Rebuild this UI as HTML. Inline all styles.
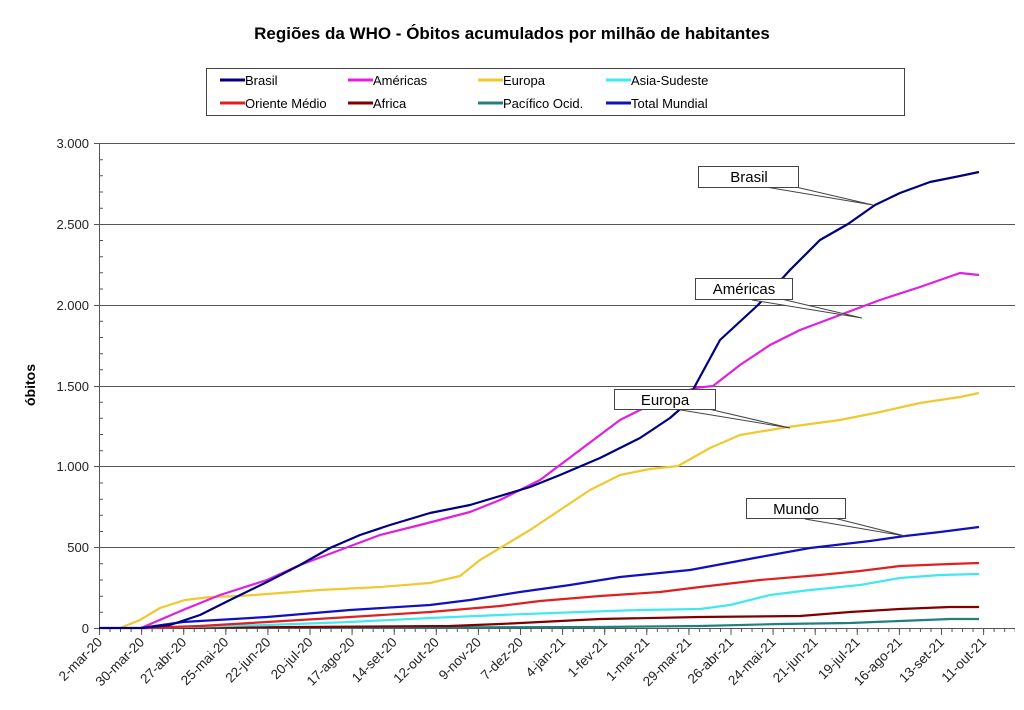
<!DOCTYPE html>
<html><head><meta charset="utf-8"><style>
body{margin:0;background:#fff;}
svg{display:block;font-family:"Liberation Sans",Arial,sans-serif;}
</style></head><body>
<svg width="1024" height="710" viewBox="0 0 1024 710">
<defs>
<pattern id="pmin" patternUnits="userSpaceOnUse" x="99" y="628" width="10.525" height="4"><rect x="0" y="0" width="1" height="4" fill="#555"/></pattern>
<pattern id="pmaj" patternUnits="userSpaceOnUse" x="99" y="628" width="42.1" height="7"><rect x="0" y="0" width="1" height="7" fill="#555"/></pattern>
</defs>
<rect width="1024" height="710" fill="#fff"/>
<text x="512" y="39" text-anchor="middle" font-size="17" font-weight="bold" fill="#000">Regiões da WHO - Óbitos acumulados por milhão de habitantes</text>
<!-- legend -->
<rect x="206.5" y="68.5" width="698" height="47" fill="#fff" stroke="#444" stroke-width="1"/>
<g font-size="13" fill="#000" stroke-width="3">
<line x1="220" y1="80" x2="245" y2="80" stroke="#000080"/><text x="245" y="85">Brasil</text>
<line x1="348" y1="80" x2="373" y2="80" stroke="#e020e0"/><text x="373" y="85">Américas</text>
<line x1="478" y1="80" x2="503" y2="80" stroke="#f0c830"/><text x="503" y="85">Europa</text>
<line x1="606" y1="80" x2="631" y2="80" stroke="#40e8f0"/><text x="631" y="85">Asia-Sudeste</text>
<line x1="220" y1="103" x2="245" y2="103" stroke="#e02020"/><text x="245" y="108">Oriente Médio</text>
<line x1="348" y1="103" x2="373" y2="103" stroke="#800000"/><text x="373" y="108">Africa</text>
<line x1="478" y1="103" x2="503" y2="103" stroke="#208080"/><text x="503" y="108">Pacífico Ocid.</text>
<line x1="606" y1="103" x2="631" y2="103" stroke="#1010c0"/><text x="631" y="108">Total Mundial</text>
</g>
<!-- grid -->
<g stroke="#555" stroke-width="1">
<line x1="94" y1="143.5" x2="1015" y2="143.5"/>
<line x1="94" y1="224.5" x2="1015" y2="224.5"/>
<line x1="94" y1="305.5" x2="1015" y2="305.5"/>
<line x1="94" y1="386.5" x2="1015" y2="386.5"/>
<line x1="94" y1="466.5" x2="1015" y2="466.5"/>
<line x1="94" y1="547.5" x2="1015" y2="547.5"/>
<line x1="94" y1="628.5" x2="1015" y2="628.5"/>
<line x1="99.5" y1="143" x2="99.5" y2="629"/>
<path fill="none" d="M99 612.3h4M99 596.2h4M99 580h4M99 563.8h4M99 531.5h4M99 515.3h4M99 499.2h4M99 483h4M99 450.7h4M99 434.5h4M99 418.3h4M99 402.2h4M99 369.8h4M99 353.7h4M99 337.5h4M99 321.3h4M99 289h4M99 272.8h4M99 256.7h4M99 240.5h4M99 208.2h4M99 192h4M99 175.8h4M99 159.7h4"/>
</g>
<rect x="99" y="628" width="916" height="4" fill="url(#pmin)"/>
<rect x="99" y="628" width="886" height="7" fill="url(#pmaj)"/>
<g font-size="13" fill="#222" text-anchor="end">
<text x="89" y="148">3.000</text><text x="89" y="229">2.500</text><text x="89" y="310">2.000</text>
<text x="89" y="391">1.500</text><text x="89" y="471">1.000</text><text x="89" y="552">500</text><text x="89" y="633">0</text>
</g>
<text transform="translate(35,385) rotate(-90)" text-anchor="middle" font-size="14" font-weight="bold">óbitos</text>
<g font-size="13.5" fill="#222" text-anchor="end">
<text transform="translate(103,643) rotate(-45)">2-mar-20</text>
<text transform="translate(145.1,643) rotate(-45)">30-mar-20</text>
<text transform="translate(187.2,643) rotate(-45)">27-abr-20</text>
<text transform="translate(229.3,643) rotate(-45)">25-mai-20</text>
<text transform="translate(271.4,643) rotate(-45)">22-jun-20</text>
<text transform="translate(313.5,643) rotate(-45)">20-jul-20</text>
<text transform="translate(355.6,643) rotate(-45)">17-ago-20</text>
<text transform="translate(397.7,643) rotate(-45)">14-set-20</text>
<text transform="translate(439.8,643) rotate(-45)">12-out-20</text>
<text transform="translate(481.9,643) rotate(-45)">9-nov-20</text>
<text transform="translate(524,643) rotate(-45)">7-dez-20</text>
<text transform="translate(566.1,643) rotate(-45)">4-jan-21</text>
<text transform="translate(608.2,643) rotate(-45)">1-fev-21</text>
<text transform="translate(650.3,643) rotate(-45)">1-mar-21</text>
<text transform="translate(692.4,643) rotate(-45)">29-mar-21</text>
<text transform="translate(734.5,643) rotate(-45)">26-abr-21</text>
<text transform="translate(776.6,643) rotate(-45)">24-mai-21</text>
<text transform="translate(818.7,643) rotate(-45)">21-jun-21</text>
<text transform="translate(860.8,643) rotate(-45)">19-jul-21</text>
<text transform="translate(902.9,643) rotate(-45)">16-ago-21</text>
<text transform="translate(945,643) rotate(-45)">13-set-21</text>
<text transform="translate(987.1,643) rotate(-45)">11-out-21</text>
</g>
<!-- series -->
<g fill="none" stroke-width="2.2" stroke-linejoin="round">
<polyline stroke="#208080" points="141,628 600,627 700,626 780,624 850,623 900,621 950,619 979,619"/>
<polyline stroke="#800000" points="141,628 300,627 450,626 500,624 600,619 700,617 800,616 850,612 900,609 950,607 979,607"/>
<polyline stroke="#40e8f0" points="141,628 267,625 350,622 430,618 500,615 580,612 640,610 700,609 730,605 770,595 810,590 860,585 900,578 940,575 979,574"/>
<polyline stroke="#e02020" points="141,628 200,626 267,622 350,617 430,612 500,606 540,601 600,596 660,592 700,587 760,580 820,575 860,571 900,566 950,564 979,563"/>
<polyline stroke="#1010c0" points="141,628 183,622 267,617 350,610 430,605 470,600 520,592 570,585 620,577 690,570 760,557 810,548 870,541 905,536 940,532 979,527"/>
<polyline stroke="#f0c830" points="120,628 140,620 160,608 185,600 210,597 240,596 267,594 320,590 380,587 430,583 460,576 480,560 500,548 530,530 560,510 590,490 620,475 650,469 678,466 710,448 740,435 788,427 840,420 880,412 920,403 960,397 979,393"/>
<polyline stroke="#e020e0" points="141,628 183,610 220,595 267,580 300,565 340,550 380,535 420,525 470,512 500,500 540,480 580,450 600,435 620,420 640,410 672,396 695,388 713,386 740,365 770,345 800,330 840,315 880,300 920,287 960,273 979,275"/>
<polyline stroke="#000080" points="99,628 141,628 170,625 200,615 230,600 267,582 300,565 330,548 360,535 390,525 430,513 470,505 500,496 530,487 560,475 600,458 640,438 670,418 686,404 695,386 720,340 758,305 790,270 820,240 848,224 875,205 900,193 930,182 960,176 979,172"/>
</g>
<!-- callouts -->
<g fill="#fff" stroke="#444" stroke-width="1">
<polygon points="783,184 760,186 873,205"/>
<rect x="698.5" y="166.5" width="100" height="21"/>
<polygon points="777,298 752,300 862,318"/>
<rect x="695.5" y="278.5" width="97" height="21"/>
<polygon points="700,407 675,409 790,428"/>
<rect x="614.5" y="389.5" width="101" height="20"/>
<polygon points="830,517 805,519 905,536"/>
<rect x="746.5" y="498.5" width="99" height="20"/>
</g>
<g font-size="15" fill="#000" text-anchor="middle">
<text x="749" y="182">Brasil</text>
<text x="744" y="294">Américas</text>
<text x="665" y="405">Europa</text>
<text x="796" y="514">Mundo</text>
</g>
</svg>
</body></html>
